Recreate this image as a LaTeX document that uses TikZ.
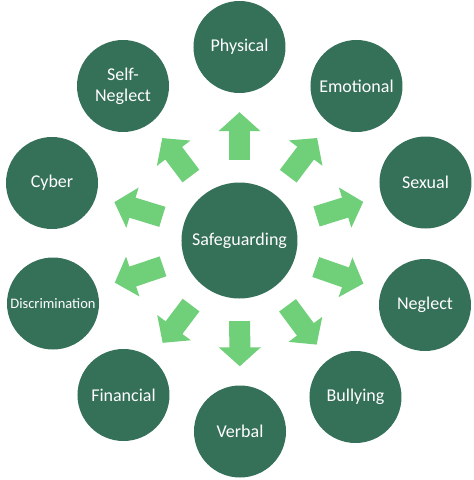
\documentclass[tikz,border=0pt]{standalone}
\usepackage{fontspec}
\setmainfont{Carlito}
\definecolor{harmgreen}{RGB}{53, 112, 89}
\definecolor{spokegreen}{RGB}{112, 208, 122}
\usepackage{tikz}
\usetikzlibrary{arrows.meta, positioning}

\begin{document}
\begin{tikzpicture}[
    harm/.style={circle, fill=harmgreen, text=white, minimum size=92pt, inner sep=0pt, align=center, font=\fontsize{18}{21}\selectfont},
    hub/.style={harm, minimum size=116pt},
    spoke/.style={draw=spokegreen, line width=21pt, shorten <=22.5pt, shorten >=19pt, -{Triangle[width=41pt, length=19pt]}}
  ]
  \useasboundingbox (-239.5pt, -239.5pt) rectangle (234.5pt, 240.5pt);

  % Centre
  \node[hub] (safe) at (0, 0) {Safeguarding};

  % Kinds of harm, clockwise from the top
  \node[harm] (physical) at (0pt, 193.5pt) {Physical};
  \node[harm] (emotional) at (117pt, 154.5pt) {Emotional};
  \node[harm] (sexual) at (186pt, 58pt) {Sexual};
  \node[harm] (neglect) at (185.5pt, -64.5pt) {Neglect};
  \node[harm] (bullying) at (116pt, -156.5pt) {Bullying};
  \node[harm] (verbal) at (0.5pt, -191pt) {Verbal};
  \node[harm] (financial) at (-116pt, -154.5pt) {Financial};
  \node[harm, font=\fontsize{14.5}{17}\selectfont] (discrim) at (-186.5pt, -63pt) {Discrimination};
  \node[harm] (cyber) at (-187.5pt, 57.5pt) {Cyber};
  \node[harm] (selfneglect) at (-116.5pt, 154.5pt) {Self-\\Neglect};

  % Arrows out of the centre
  \draw[spoke] (safe) -- (physical);
  \draw[spoke] (safe) -- (emotional);
  \draw[spoke] (safe) -- (sexual);
  \draw[spoke] (safe) -- (neglect);
  \draw[spoke] (safe) -- (bullying);
  \draw[spoke] (safe) -- (verbal);
  \draw[spoke] (safe) -- (financial);
  \draw[spoke] (safe) -- (discrim);
  \draw[spoke] (safe) -- (cyber);
  \draw[spoke] (safe) -- (selfneglect);
\end{tikzpicture}
\end{document}
